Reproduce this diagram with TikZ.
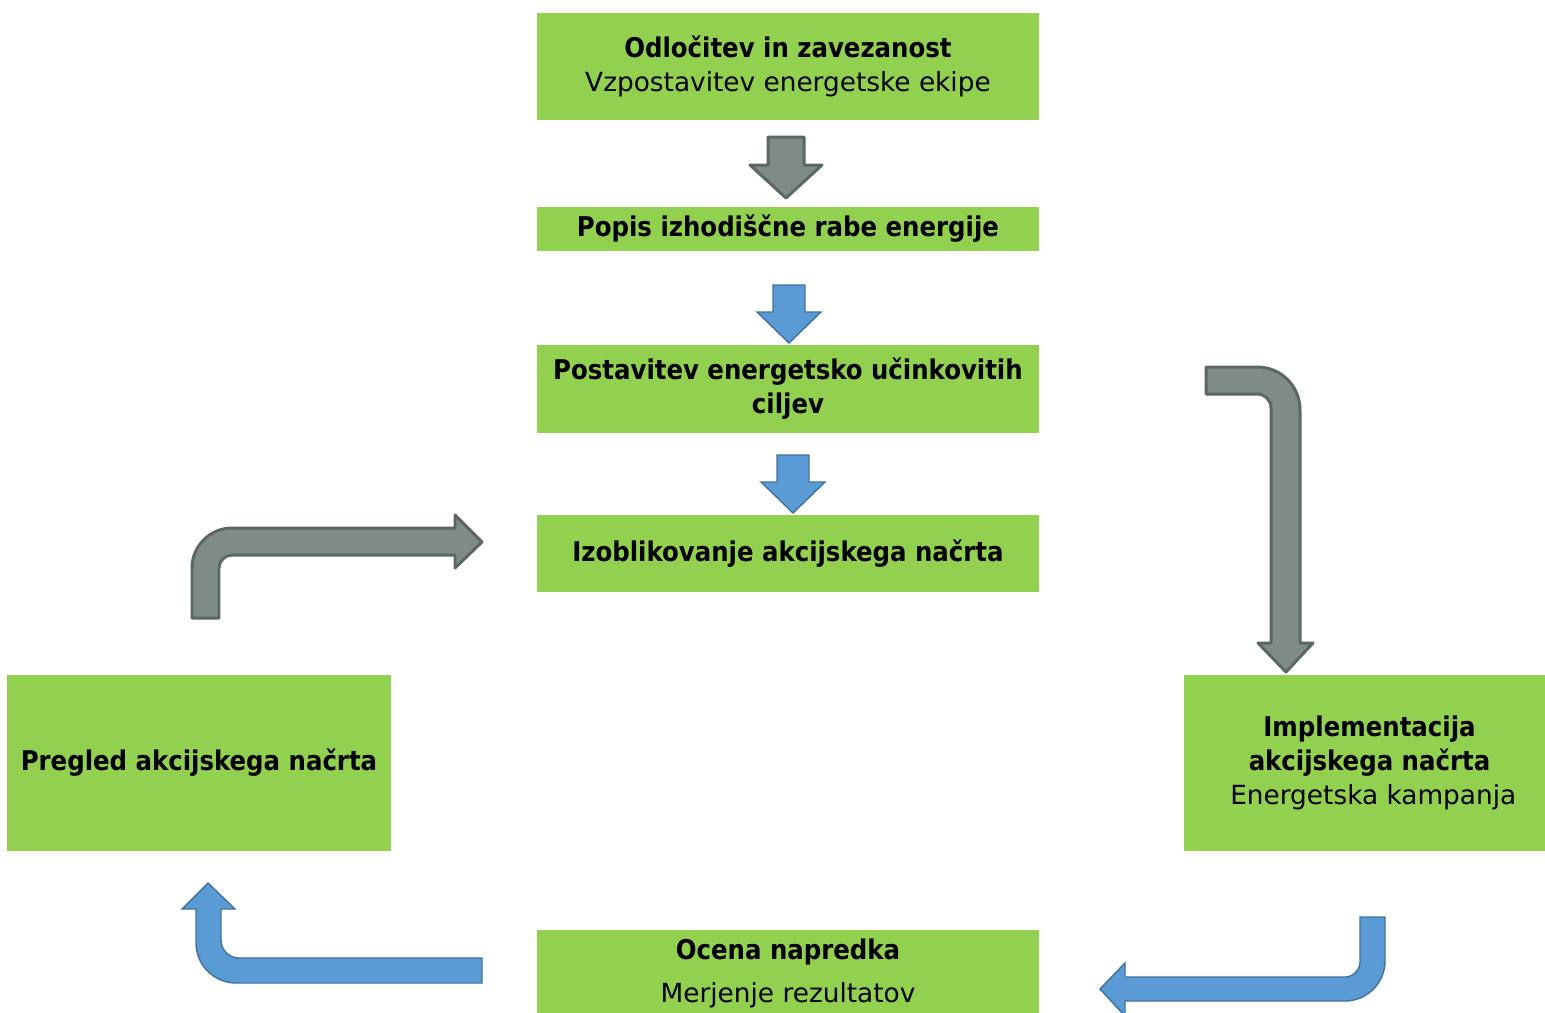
\documentclass[tikz,border=0pt]{standalone}
\usepackage{fontspec}
\setmainfont{DejaVu Sans}[BoldFont={DejaVu Sans Condensed Bold}, BoldFeatures={Scale=1.03}]
\usepackage{tikz}
\usepackage{xcolor}
\usetikzlibrary{positioning, calc}
\definecolor{cLeaf}{RGB}{146,208,80}
\definecolor{cSlate}{RGB}{126,139,136}
\definecolor{cSlateDark}{RGB}{90,103,101}
\definecolor{cSky}{RGB}{91,155,213}
\definecolor{cSkyDark}{RGB}{65,113,156}
\tikzset{
	phase/.style    ={rectangle, fill=cLeaf, inner sep=0pt, align=center, minimum width=10.04cm},
	sidephase/.style={rectangle, fill=cLeaf, inner sep=0pt, align=center, minimum height=3.52cm},
	grayblk/.style  ={fill=cSlate, draw=cSlateDark, line width=1.7pt, line join=round},
	blueblk/.style  ={fill=cSky, draw=cSkyDark, line width=0.8pt, line join=miter},
}

\begin{document}
\begin{tikzpicture}[x=0.02cm, y=-0.02cm, font=\fontsize{15}{19.3}\selectfont]
	\useasboundingbox (0,0) rectangle (1545,1012);
	% main column
	\node[phase, minimum height=2.14cm] (commit) at (788,66.5) {{\bfseries Odločitev in zavezanost}\\ Vzpostavitev energetske ekipe};
	\node[phase, minimum height=0.88cm] (baseline) at (788,229) {\bfseries Popis izhodiščne rabe energije};
	\node[phase, minimum height=1.76cm] (goals) at (788,389) {\bfseries Postavitev energetsko učinkovitih\\ \bfseries ciljev};
	\node[phase, minimum height=1.54cm] (plan) at (788,553.5) {\bfseries Izoblikovanje akcijskega načrta};
	\node[phase, minimum height=1.74cm, font=\fontsize{15}{24.4}\selectfont] (eval) at (788,973.5) {{\bfseries Ocena napredka}\\ Merjenje rezultatov};
	% side boxes
	\node[sidephase, minimum width=7.68cm] (review) at (199,763) {\bfseries Pregled akcijskega načrta};
	\node[sidephase, minimum width=7.22cm] (impl) at (1364.5,763) {\hspace*{0.2cm}{\bfseries Implementacija}\\ \hspace*{0.2cm}{\bfseries akcijskega načrta}\\ \hspace*{0.35cm}Energetska kampanja};
	% block arrows between phases
	\draw[grayblk] (768,137) -- (804,137) -- (804,165) -- (822,165) -- (786,198) -- (750,165) -- (768,165) -- cycle;
	\foreach \cx/\ty in {789/285, 793/455} {
		\draw[blueblk] (\cx-16,\ty) -- (\cx+16,\ty) -- (\cx+16,\ty+27) -- (\cx+32,\ty+27) -- (\cx,\ty+58) -- (\cx-32,\ty+27) -- (\cx-16,\ty+27) -- cycle;
	}
	% bent arrows of the loop
	\draw[grayblk] (1206,367) -- (1257,367) .. controls (1281,367) and (1300,386) .. (1300,410) -- (1300,643) -- (1313,643) -- (1286,672) -- (1258,643) -- (1271,643) -- (1271,408) .. controls (1271,400) and (1265,394) .. (1257,394) -- (1206,394) -- cycle;
	\draw[blueblk] (1360,917) -- (1385,917) -- (1385,961) .. controls (1385,983) and (1367,1001) .. (1345,1001) -- (1125,1001) -- (1125,1016) -- (1100,989) -- (1125,963) -- (1125,977) -- (1345,977) .. controls (1353,977) and (1360,970) .. (1360,962) -- cycle;
	\draw[blueblk] (482,958) -- (482,983) -- (236,983) .. controls (214,983) and (196,965) .. (196,943) -- (196,909) -- (182,909) -- (208,883) -- (235,909) -- (221,909) -- (221,940) .. controls (221,950) and (229,958) .. (239,958) -- cycle;
	\draw[grayblk] (192,618) -- (192,568) .. controls (192,546) and (210,528) .. (232,528) -- (455,528) -- (455,515) -- (482,542) -- (455,568) -- (455,555) -- (232,555) .. controls (225,555) and (219,561) .. (219,568) -- (219,618) -- cycle;
\end{tikzpicture}
\end{document}
